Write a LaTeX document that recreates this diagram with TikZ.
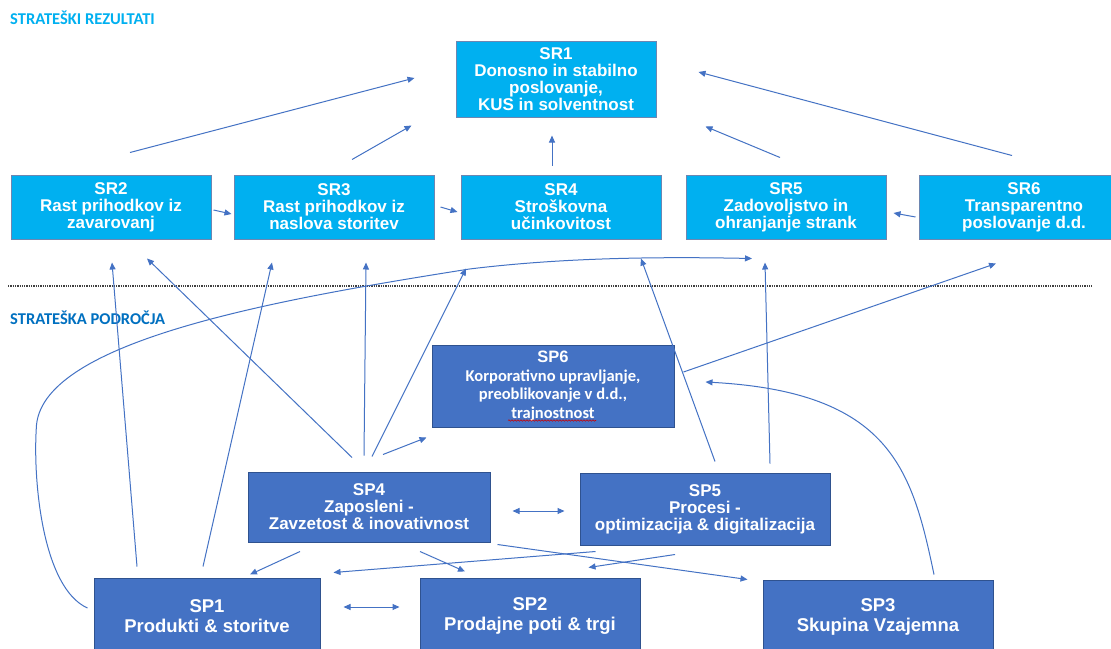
\documentclass[tikz,border=0pt]{standalone}
\usepackage{fontspec}
\setmainfont{Liberation Sans}
\newfontfamily\calibri{Carlito}
\usetikzlibrary{arrows.meta,positioning,decorations.pathmorphing}
\definecolor{srfill}{RGB}{0,176,240}
\definecolor{spfill}{RGB}{68,114,196}
\definecolor{spline}{RGB}{47,82,143}
\definecolor{arrowcol}{RGB}{68,114,196}
\definecolor{headblue}{RGB}{0,112,192}

\begin{document}
\begin{tikzpicture}[
    x=1pt, y=-1pt,
    node distance=23pt,
    every node/.style={font=\bfseries\fontsize{17}{17}\selectfont, text=white},
    srbox/.style={draw=spline!70, fill=srfill, align=center, minimum width=200pt, minimum height=64pt, inner sep=2pt, line width=1pt},
    spbox/.style={draw=spline, fill=spfill, align=center, minimum height=70pt, inner sep=2pt, line width=1pt},
    bigbox/.style={spbox, font=\bfseries\fontsize{18.5}{19.5}\selectfont},
    titlelabel/.style={font=\calibri\bfseries\fontsize{16.5}{18}\selectfont, anchor=west, inner sep=0pt},
    flow/.style={-{Triangle[length=7pt,width=6pt]}, arrowcol, line width=1pt},
    twoway/.style={{Triangle[length=7pt,width=6pt]}-{Triangle[length=7pt,width=6pt]}, arrowcol, line width=1pt}
]
\fill[white] (0,0) rectangle (1111,648);
\useasboundingbox (0,0) rectangle (1111,648);

% strateski rezultati
\node[titlelabel, text=srfill] (reztitle) at (10,18) {STRATEŠKI REZULTATI};
\node[srbox, minimum height=76pt] (sr1) at (556,79) {SR1\\Donosno in stabilno\\poslovanje,\\KUS in solventnost};
\node[srbox] (sr2) at (111,207) {SR2\\Rast prihodkov iz\\zavarovanj};
\node[srbox, right=22pt of sr2] (sr3) {SR3\\Rast prihodkov iz\\naslova storitev};
\node[srbox, right=26pt of sr3] (sr4) {SR4\\Stroškovna\\učinkovitost};
\node[srbox, right=24pt of sr4] (sr5) {SR5\\Zadovoljstvo in\\ohranjanje strank};
\node[srbox, right=32pt of sr5, minimum width=210pt] (sr6) {SR6\\Transparentno\\poslovanje d.d.};

\draw[densely dotted, black!75, line width=1.3pt] (8,286) -- (1092,286);

% strateska podrocja
\node[titlelabel, text=headblue] (podtitle) at (10,318) {STRATEŠKA PODROČJA};
\node[spbox, minimum width=242pt, minimum height=82pt, font=\calibri\bfseries\fontsize{16.5}{18.5}\selectfont] (sp6) at (553,386) {{\rmfamily SP6}\\Korporativno upravljanje,\\preoblikovanje v d.d.,\\trajnostnost};
\node[spbox, minimum width=242pt] (sp4) at (369,507) {SP4\\Zaposleni -\\Zavzetost \& inovativnost};
\node[spbox, minimum width=250pt, minimum height=72pt] (sp5) at (705,509) {SP5\\Procesi -\\optimizacija \& digitalizacija};
\node[bigbox, minimum width=226pt, minimum height=76pt] (sp1) at (207,616) {SP1\\Produkti \& storitve};
\node[bigbox, minimum width=220pt, minimum height=76pt] (sp2) at (530,616) {SP2\\Prodajne poti \& trgi};
\node[bigbox, minimum width=230pt, minimum height=74pt] (sp3) at (878,617) {SP3\\Skupina Vzajemna};
\draw[red!80!black, decorate, decoration={snake, amplitude=0.7pt, segment length=3pt}, line width=0.6pt] ([shift={(-45,-7)}]sp6.south) -- ([shift={(43,-7)}]sp6.south);

% rezultati -> SR1
\draw[flow] ([shift={(19,-22)}]sr2.north) -- ([shift={(-41,-1)}]sr1.west);
\draw[flow] ([shift={(18,-15)}]sr3.north) -- ([shift={(-44,8)}]sr1.south west);
\draw[flow] ([shift={(-9,-9)}]sr4.north) -- ([shift={(-4,18)}]sr1.south);
\draw[flow] ([shift={(-6,-17)}]sr5.north) -- ([shift={(49,9)}]sr1.south east);
\draw[flow] ([shift={(-12,-19)}]sr6.north) -- ([shift={(42,-7)}]sr1.east);
\draw[flow] ([shift={(2,3)}]sr2.east) -- ([shift={(-2,7)}]sr3.west);
\draw[flow] ([shift={(6,0)}]sr3.east) -- ([shift={(-3,5)}]sr4.west);
\draw[flow] ([shift={(-3,10)}]sr6.west) -- ([shift={(7,6)}]sr5.east);

% podrocja -> rezultati
\draw[flow] ([shift={(-70,-11)}]sp1.north) -- ([shift={(1,23)}]sr2.south);
\draw[flow] ([shift={(-4,-11)}]sp1.north) -- ([shift={(-62,23)}]sr3.south);
\draw[flow] ([shift={(-17,-14)}]sp4.north) -- ([shift={(36,19)}]sr2.south);
\draw[flow] ([shift={(-5,-16)}]sp4.north) -- ([shift={(32,23)}]sr3.south);
\draw[flow] ([shift={(3,-15)}]sp4.north) -- ([shift={(-95,29)}]sr4.south);
\draw[flow] ([shift={(14,-17)}]sp4.north) -- ([shift={(-5,10)}]sp6.south west);
\draw[flow] ([shift={(10,-11)}]sp5.north) -- ([shift={(80,19)}]sr4.south);
\draw[flow] ([shift={(65,-9)}]sp5.north) -- ([shift={(-21,23)}]sr5.south);
\draw[flow] ([shift={(9,-14)}]sp6.east) -- ([shift={(-28,24)}]sr6.south);
\draw[flow] ([shift={(56,-5)}]sp3.north) .. controls +(-22,-105) and +(185,10) .. ([shift={(31,-4)}]sp6.east);
\draw[flow] ([shift={(-6,-8)}]sp1.west) .. controls +(-45,-20) and +(-4,55) .. ++(-51,-183)
    .. controls +(8,-85) and +(-190,30) .. ++(433,-156)
    .. controls +(90,-11) and +(-100,-2) .. ([shift={(-34,19)}]sr5.south);

% med podrocji
\draw[twoway] ([shift={(22,4)}]sp4.east) -- ([shift={(-15,2)}]sp5.west);
\draw[twoway] ([shift={(23,-9)}]sp1.east) -- ([shift={(-20,-9)}]sp2.west);
\draw[flow] ([shift={(-69,9)}]sp4.south) -- ([shift={(43,-3)}]sp1.north);
\draw[flow] ([shift={(51,9)}]sp4.south) -- ([shift={(-65,-6)}]sp2.north);
\draw[flow] ([shift={(7,2)}]sp4.south east) -- ([shift={(-15,0)}]sp3.north west);
\draw[flow] ([shift={(16,6)}]sp5.south west) -- ([shift={(13,-5)}]sp1.north east);
\draw[flow] ([shift={(-30,9)}]sp5.south) -- ([shift={(-52,-10)}]sp2.north east);
\end{tikzpicture}
\end{document}
